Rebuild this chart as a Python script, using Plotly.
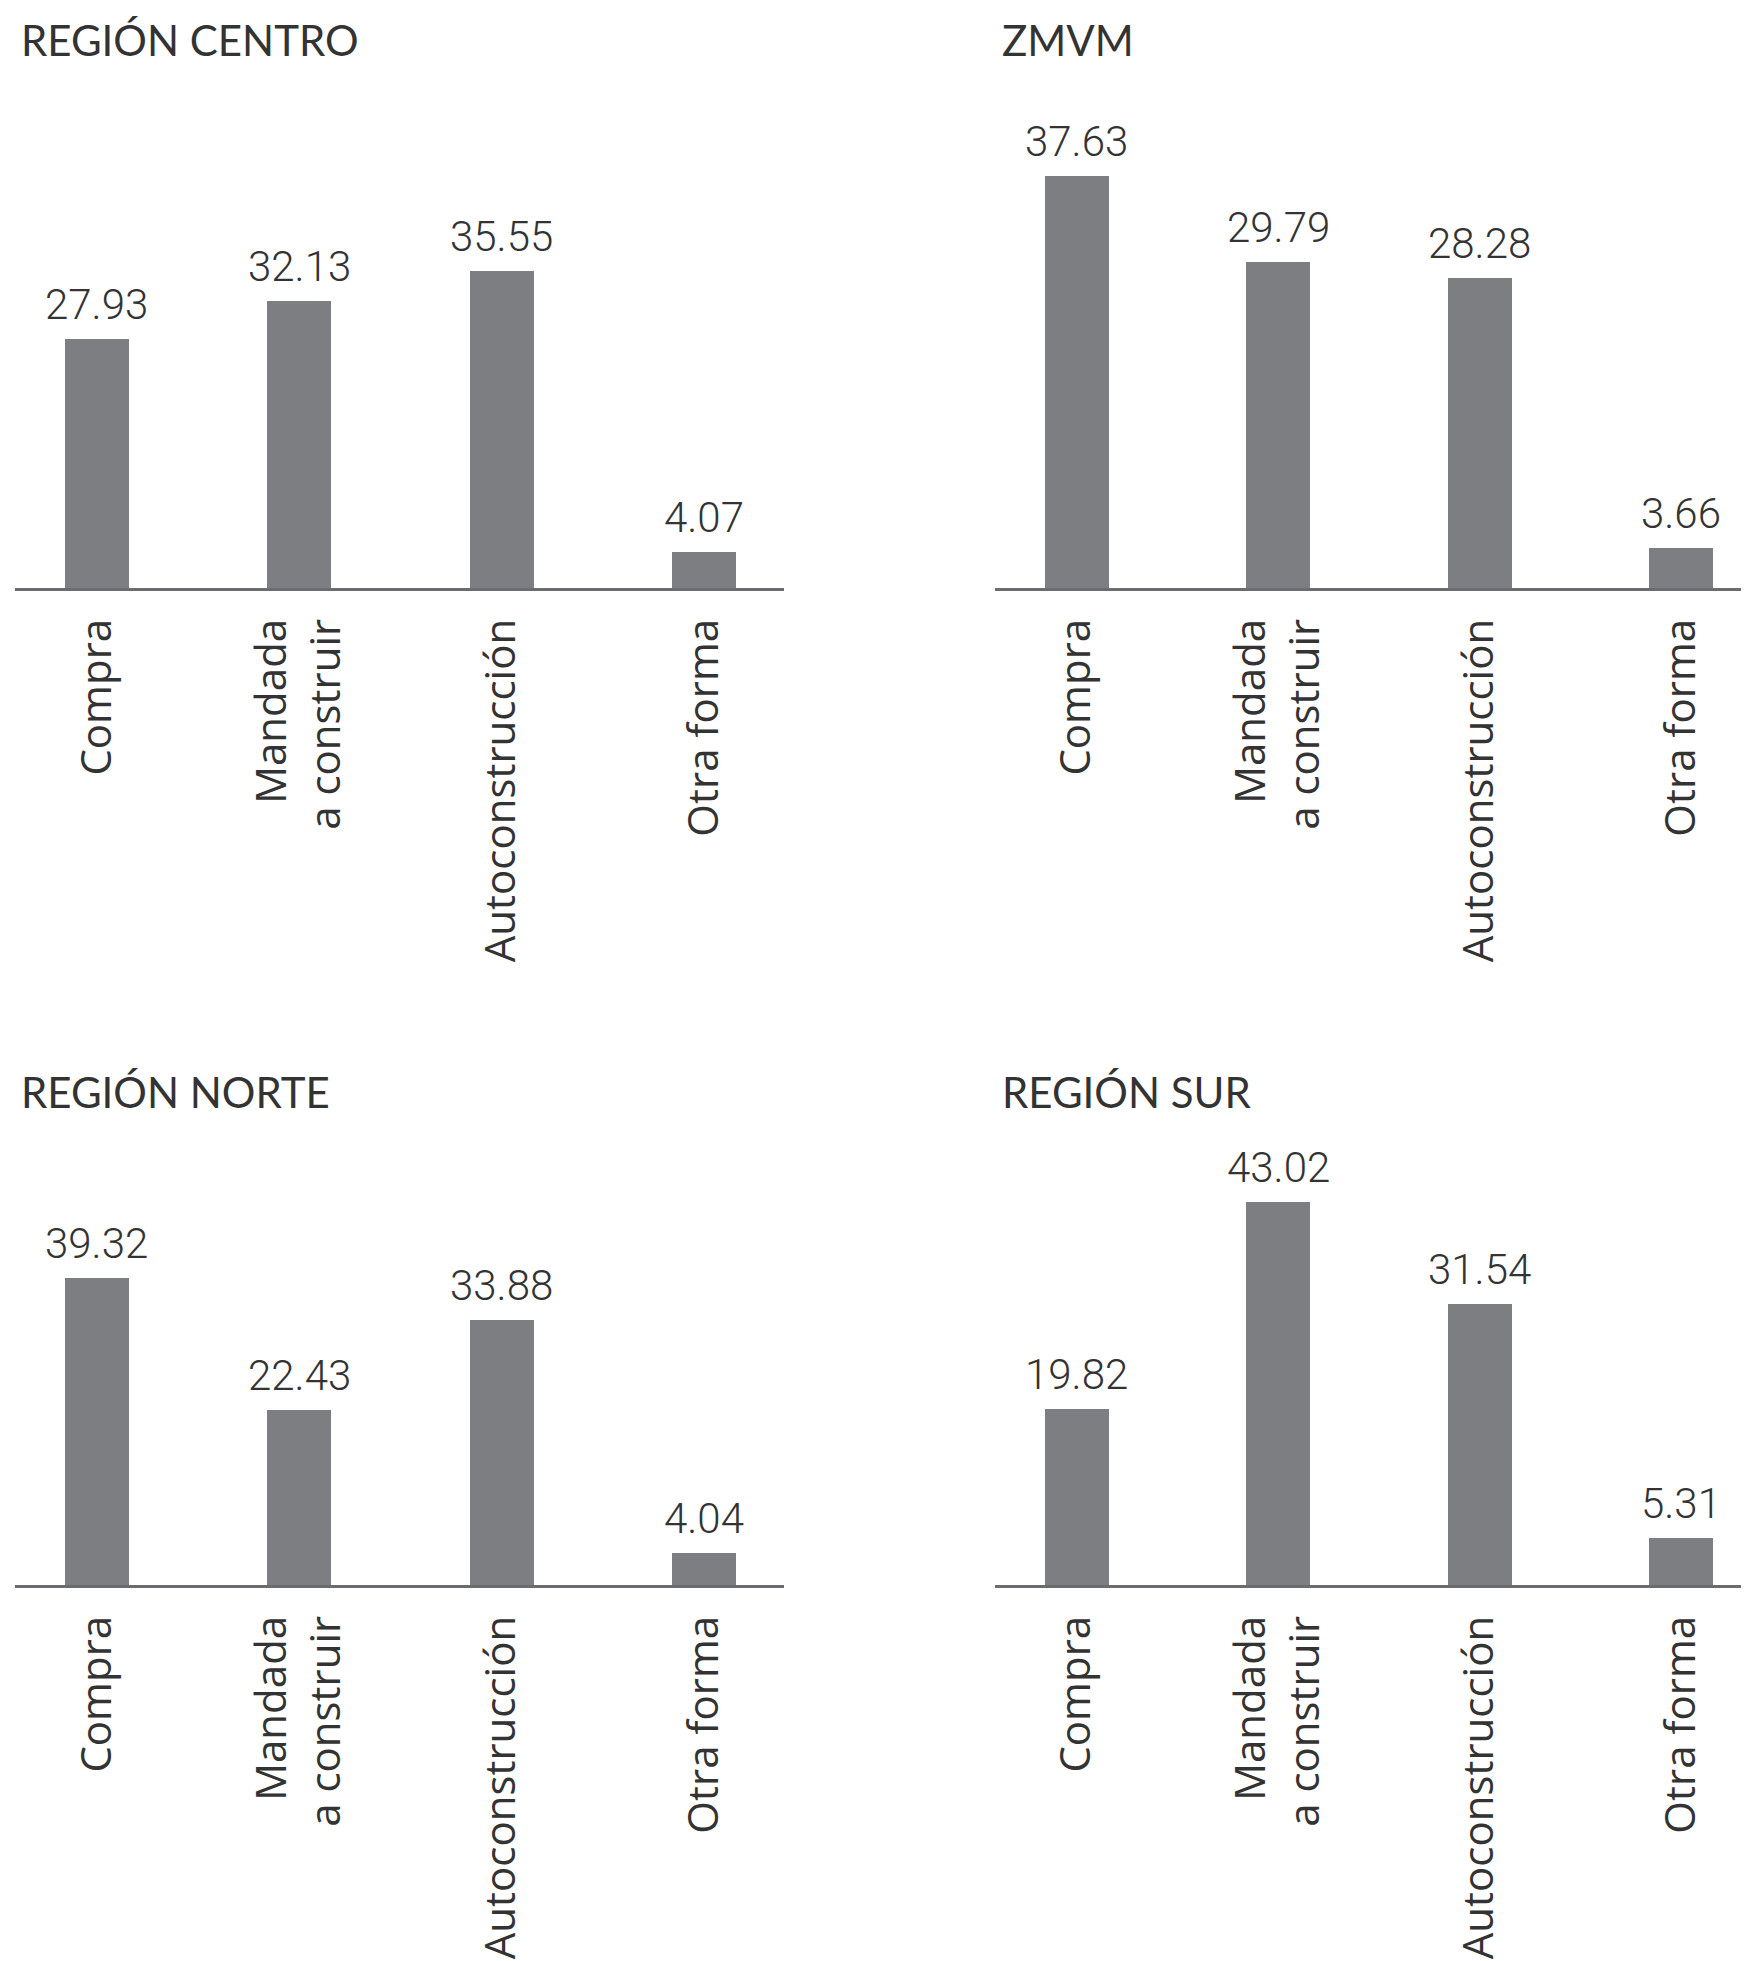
import plotly.graph_objects as go

categories = ["Compra", "Mandada<br>a construir", "Autoconstrucción", "Otra forma"]
titles = ["REGIÓN CENTRO", "ZMVM", "REGIÓN NORTE", "REGIÓN SUR"]
centro = [27.93, 32.13, 35.55, 4.07]
zmvm = [37.63, 29.79, 28.28, 3.66]
norte = [39.32, 22.43, 33.88, 4.04]
sur = [19.82, 43.02, 31.54, 5.31]
series = [centro, zmvm, norte, sur]

W, H = 1749, 1961
OFF = 8  # browser body margin compensation
BAR = "#7c7e81"
LINE = "#6b6c6f"
TXT = "#333333"

# panel geometry (pixels, page coordinates)
x_left = [(15, 784), (995, 1757), (15, 784), (995, 1757)]
x_range = [(-0.405, 3.395), (-0.405, 3.376), (-0.405, 3.395), (-0.405, 3.376)]
y_px = [(102, 588), (102, 588), (1098, 1585), (1098, 1585)]
y_max = [54.5, 44.4, 62.3, 54.7]
title_pos = [(19, 40), (1000, 40), (19, 1092), (1000, 1092)]

fig = go.Figure()
annotations = []
for i, vals in enumerate(series):
    n = "" if i == 0 else str(i + 1)
    fig.add_trace(go.Bar(
        x=categories, y=vals, width=0.317,
        marker=dict(color=BAR, line=dict(width=0)),
        xaxis="x" + n, yaxis="y" + n, showlegend=False,
    ))
    x0, x1 = x_left[i]
    x0 -= OFF
    x1 = min(x1 - OFF, W)
    ytop, ybot = y_px[i]
    ytop -= OFF
    ybot -= OFF
    fig.layout["xaxis" + n] = dict(
        domain=[x0 / W, x1 / W], anchor="y" + n,
        range=list(x_range[i]), type="category",
        showline=True, linecolor=LINE, linewidth=3,
        showgrid=False, zeroline=False, ticks="",
        tickangle=-90, ticklabelstandoff=11,
        tickfont=dict(family="Open Sans", size=42, color=TXT),
    )
    fig.layout["yaxis" + n] = dict(
        domain=[1 - ybot / H, 1 - ytop / H], anchor="x" + n,
        range=[0, y_max[i]], visible=False, showgrid=False, zeroline=False,
    )
    for c, v in zip(categories, vals):
        annotations.append(dict(
            x=c, y=v, xref="x" + n, yref="y" + n, text=f"{v:.2f}",
            showarrow=False, yanchor="bottom", yshift=8,
            font=dict(family="Roboto", size=42, color=TXT, weight=300),
        ))
    tx, ty = title_pos[i]
    annotations.append(dict(
        x=(tx - OFF) / W, y=1 - (ty - OFF) / H, xref="paper", yref="paper",
        text=titles[i], showarrow=False, xanchor="left", yanchor="middle",
        font=dict(family="Lato", size=42, color=TXT),
    ))

fig.update_layout(
    width=W, height=H, autosize=False,
    margin=dict(l=0, r=0, t=0, b=0),
    paper_bgcolor="white", plot_bgcolor="white",
    annotations=annotations, bargap=0,
)
fig.write_html("out.html")
